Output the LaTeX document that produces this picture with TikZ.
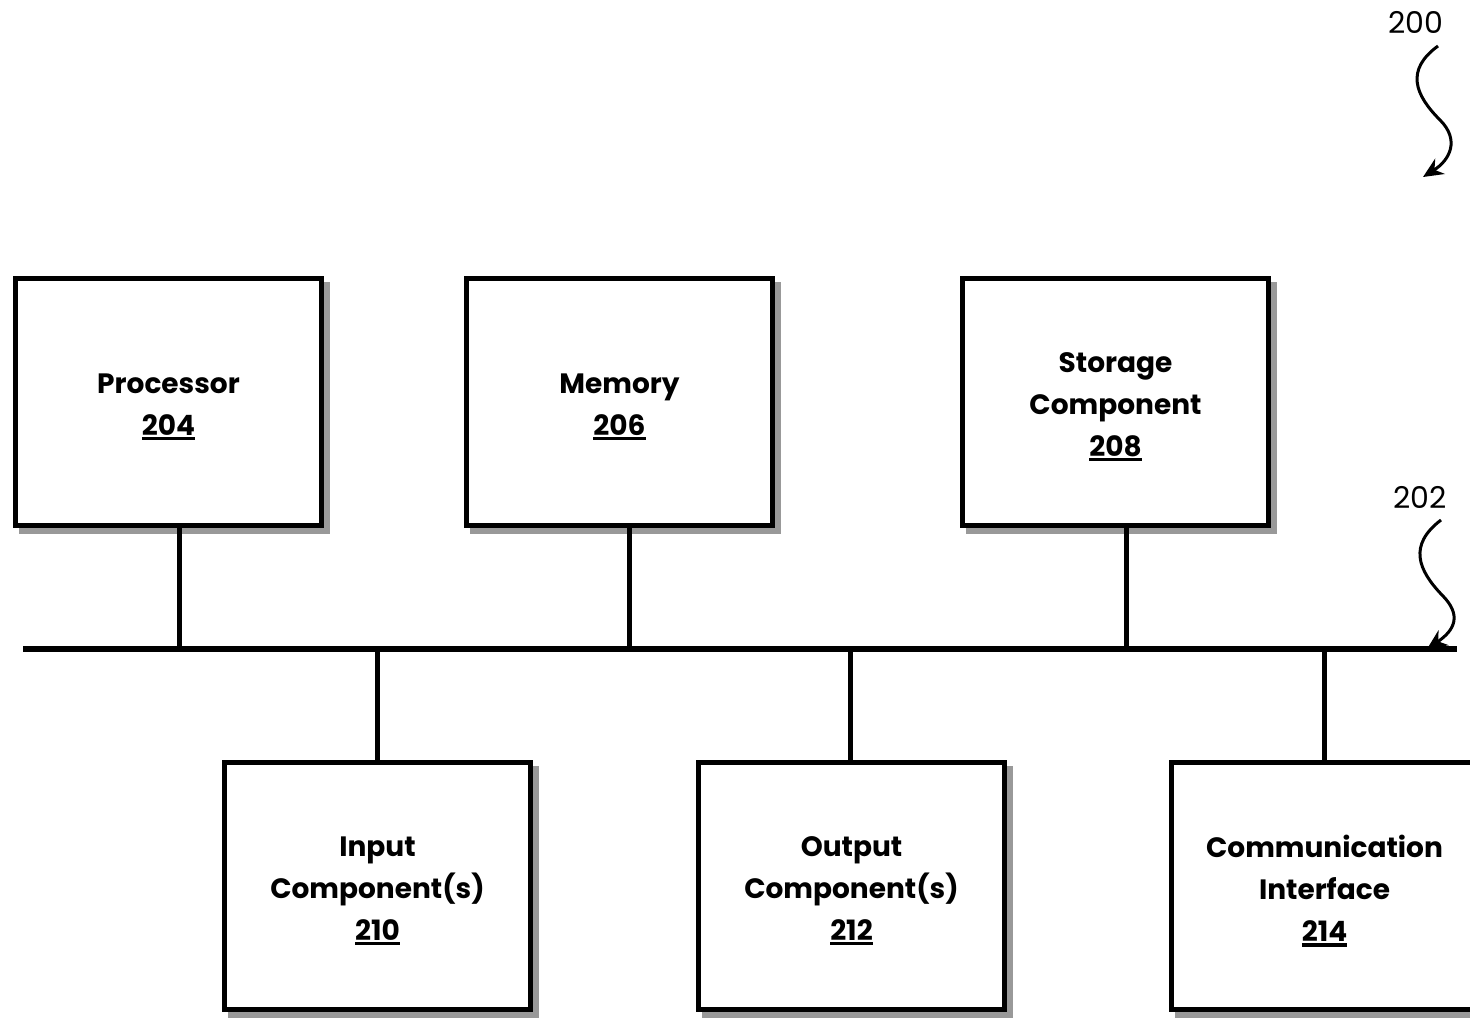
\documentclass[tikz,border=0pt]{standalone}
\usepackage{fontspec}
\setmainfont{Poppins}
\usetikzlibrary{arrows.meta}
\newcommand{\numul}[1]{\setbox0\hbox{#1}\rlap{\rule[-5pt]{\wd0}{3.5pt}}\box0}
\tikzset{
  box/.style={draw=black, line width=5pt, fill=white, minimum width=306pt, minimum height=247pt, inner sep=0pt},
  boxtext/.style={align=center, inner sep=0pt, yshift=-5pt, font=\fontsize{28}{42}\selectfont\bfseries},
  boxshadow/.style={fill=black!40},
  bus/.style={line width=6pt},
  link/.style={line width=5pt},
  refl/.style={font=\fontsize{30}{34}\selectfont},
  squig/.style={line width=3pt, -{Stealth[length=20pt,width=18pt]}}
}
\begin{document}
\begin{tikzpicture}[x=1pt,y=-1pt]
\useasboundingbox (0,0) rectangle (1470,1018);
% shadows
\foreach \x/\y in {13/276, 464/276, 960/276, 222/760, 696/760, 1169/760}{
  \fill[boxshadow] (\x+6,\y+6) rectangle ++(311,252);
}
\node[box, anchor=north west] (proc) at (13,276) {};
\node[box, anchor=north west] (mem) at (464,276) {};
\node[box, anchor=north west] (stor) at (960,276) {};
\node[box, anchor=north west] (inp) at (222,760) {};
\node[box, anchor=north west] (outp) at (696,760) {};
\node[box, anchor=north west] (comm) at (1169,760) {};
\node[boxtext] (proct) at (proc.center) {Processor\\\numul{204}};
\node[boxtext] (memt) at (mem.center) {Memory\\\numul{206}};
\node[boxtext] (stort) at (stor.center) {Storage\\Component\\\numul{208}};
\node[boxtext] (inpt) at (inp.center) {Input\\Component(s)\\\numul{210}};
\node[boxtext] (outpt) at (outp.center) {Output\\Component(s)\\\numul{212}};
\node[boxtext] (commt) at (comm.center) {Communication\\Interface\\\numul{214}};
% bus
\coordinate (busL) at (23,649);
\coordinate (busR) at (1457,649);
\draw[bus] (busL) -- (busR);
\coordinate (b1) at (179,649);
\coordinate (b2) at (629,649);
\coordinate (b3) at (1126,649);
\coordinate (b4) at (377,649);
\coordinate (b5) at (850,649);
\coordinate (b6) at (1324,649);
\draw[link] (proc.south -| b1) -- (b1);
\draw[link] (mem.south -| b2) -- (b2);
\draw[link] (stor.south -| b3) -- (b3);
\draw[link] (b4) -- (inp.north -| b4);
\draw[link] (b5) -- (outp.north -| b5);
\draw[link] (b6) -- (comm.north -| b6);
% reference labels
\node[refl] (l200) at (1416,22) {200};
\node[refl] (l202) at (1420,497) {202};
\coordinate (t200) at (1423,177);
\coordinate (t202) at (1427,649);
\draw[squig] (1438,46) .. controls (1405,70) and (1415,95) .. (1440,120) .. controls (1460,140) and (1450,160) .. (t200);
\draw[squig] (1441,520) .. controls (1408,545) and (1418,570) .. (1442,595) .. controls (1462,615) and (1455,630) .. (t202);
\end{tikzpicture}
\end{document}
